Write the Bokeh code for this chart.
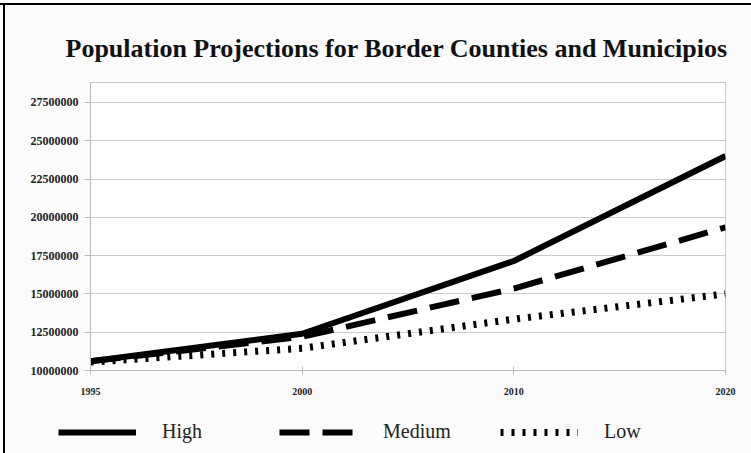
from bokeh.plotting import figure
from bokeh.models import Range1d, FixedTicker, BasicTickFormatter, Legend, LegendItem, Spacer
from bokeh.layouts import column, row
from bokeh.embed import file_html
from bokeh.resources import INLINE

years = ["1995", "2000", "2010", "2020"]
high = [10600000, 12400000, 17150000, 24000000]
medium = [10600000, 12200000, 15350000, 19350000]
low = [10550000, 11450000, 13350000, 15000000]
y_ticks = [10000000, 12500000, 15000000, 17500000, 20000000, 22500000, 25000000, 27500000]
series_names = ["High", "Medium", "Low"]

xs = list(range(len(years)))
SERIF = "Liberation Serif"
BG = "#fbfbfb"
STYLES = [dict(line_width=6, line_dash="solid"),
          dict(line_width=6, line_dash="30 13"),
          dict(line_width=7, line_dash="3 8")]

p = figure(width=746, height=400, output_backend="svg", toolbar_location=None,
           x_range=Range1d(0, len(years) - 1), y_range=Range1d(10000000, 28800000),
           min_border_left=85, min_border_right=26, min_border_top=77, min_border_bottom=35)
p.frame_align = False

p.title.text = "Population Projections for Border Counties and Municipios"
p.title.text_font = SERIF
p.title.text_font_size = "26px"
p.title.text_font_style = "bold"
p.title.text_color = "#111111"
p.title.align = "left"
p.title.offset = -25
p.title.standoff = 40

p.background_fill_color = "white"
p.border_fill_color = BG
p.outline_line_color = "#c8c8c8"

for vals, st in zip([high, medium, low], STYLES):
    p.line(xs, vals, line_color="black", **st)

p.xaxis.ticker = FixedTicker(ticks=xs)
p.xaxis.major_label_overrides = {i: y for i, y in enumerate(years)}
p.xaxis.major_label_text_font = SERIF
p.xaxis.major_label_text_font_size = "10px"
p.xaxis.major_label_text_font_style = "bold"
p.xaxis.major_label_text_color = "#222222"
p.xaxis.major_label_standoff = 13
p.xaxis.axis_line_color = "#bbbbbb"
p.xaxis.major_tick_line_color = "#bbbbbb"
p.xaxis.major_tick_in = 4
p.xaxis.major_tick_out = 4
p.xaxis.minor_tick_line_color = None
p.xgrid.grid_line_color = None

p.yaxis.ticker = FixedTicker(ticks=y_ticks)
p.yaxis.formatter = BasicTickFormatter(use_scientific=False)
p.yaxis.major_label_text_font = SERIF
p.yaxis.major_label_text_font_size = "12px"
p.yaxis.major_label_text_font_style = "bold"
p.yaxis.major_label_text_color = "#222222"
p.yaxis.major_label_standoff = 6
p.yaxis.axis_line_color = "#bbbbbb"
p.yaxis.major_tick_line_color = "#bbbbbb"
p.yaxis.major_tick_in = 0
p.yaxis.major_tick_out = 6
p.yaxis.minor_tick_line_color = None
p.ygrid.grid_line_color = "#cccccc"

# legend strip (series drawn off-screen so only their legend samples show)
q = figure(width=746, height=48, output_backend="svg", toolbar_location=None,
           x_range=Range1d(0, 1), y_range=Range1d(0, 1),
           min_border=0, outline_line_color=None)
q.frame_align = False
q.axis.visible = False
q.grid.visible = False
q.background_fill_color = BG
q.border_fill_color = BG
items = []
for name, vals, st in zip(series_names, [high, medium, low], STYLES):
    r = q.line(xs, vals, line_color="black", **st)
    items.append(LegendItem(label=name, renderers=[r]))
legend = Legend(items=items, orientation="horizontal", location=(53, 10),
                glyph_width=78, glyph_height=20, label_standoff=26,
                label_width=95, spacing=22, padding=0, margin=0,
                label_text_font=SERIF, label_text_font_size="20px",
                label_text_color="#222222",
                border_line_color=None, background_fill_alpha=0)
q.add_layout(legend, "center")

top_gap = Spacer(width=751, height=3, styles={"background-color": "white"})
top_line = Spacer(width=751, height=2, styles={"background-color": "black"})
left_gap = Spacer(width=3, height=448, styles={"background-color": "white"})
left_line = Spacer(width=2, height=448, styles={"background-color": "black"})

layout = column(top_gap, top_line, row(left_gap, left_line, column(p, q, spacing=0), spacing=0), spacing=0)
open("out.html", "w").write(file_html(layout, INLINE))
